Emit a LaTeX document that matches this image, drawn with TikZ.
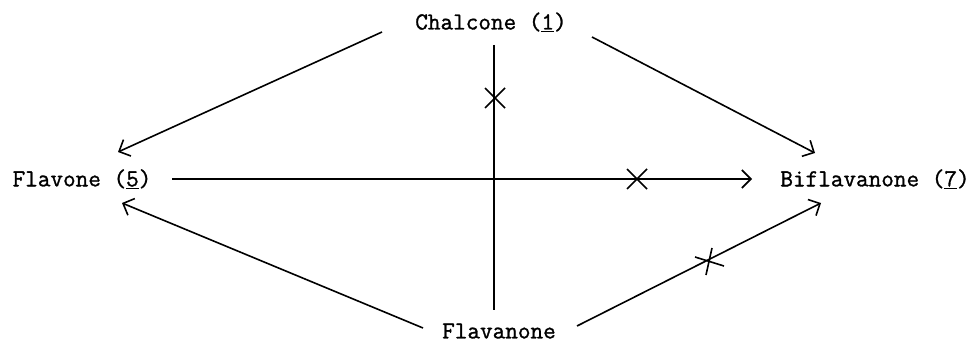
\documentclass[tikz,border=0pt]{standalone}
\usepackage{fontspec}
\newfontfamily\lblfont{Latin Modern Mono}[FakeBold=1.2]
\usetikzlibrary{arrows.meta,calc}
\begin{document}
\begin{tikzpicture}[x=1pt,y=-1pt,
  lbl/.style={font=\lblfont\fontsize{24.5}{27}\selectfont, inner sep=0pt, anchor=center},
  conn/.style={line width=1.6pt},
  arr/.style={conn, -{Straight Barb[length=9pt,width=18pt,line width=1.6pt]}},
  xmark/.style={line width=1.6pt}]
\useasboundingbox (0,0) rectangle (975,345);
\node[lbl] (chal) at (491,22) {Chalcone (\underline{1})};
\node[lbl] (flav) at (82,179) {Flavone (\underline{5})};
\node[lbl] (bifl) at (875,179) {Biflavanone (\underline{7})};
\node[lbl] (flvn) at (499,331) {Flavanone};
% endpoints
\coordinate (a1) at (382,32);  \coordinate (a2) at (118,152);
\coordinate (b1) at (592,37);  \coordinate (b2) at (815,153);
\coordinate (c1) at (423,328); \coordinate (c2) at (122,203);
\coordinate (d1) at (577,326); \coordinate (d2) at (821,203);
\coordinate (h1) at (172,179); \coordinate (h2) at (752,179);
\coordinate (v1) at (494,45);  \coordinate (v2) at (494,310);
\draw[arr] (a1) -- (a2);
\draw[arr] (b1) -- (b2);
\draw[arr] (c1) -- (c2);
\draw[arr] (d1) -- (d2);
\draw[arr] (h1) -- (h2);
\draw[conn] (v1) -- (v2);
% cross marks
\coordinate (x1) at (495,98);
\coordinate (x2) at (637,179);
\coordinate (x3) at (709,262);
\draw[xmark] ($(x1)+(-10,-10)$) -- ($(x1)+(10,10)$) ($(x1)+(-10,10)$) -- ($(x1)+(10,-10)$);
\draw[xmark] ($(x2)+(-10,-10)$) -- ($(x2)+(10,10)$) ($(x2)+(-10,10)$) -- ($(x2)+(10,-10)$);
\draw[xmark] ($(x3)+(3,-14)$) -- ($(x3)+(-3,13)$) ($(x3)+(-14,-5)$) -- ($(x3)+(15,4)$);
\end{tikzpicture}
\end{document}
